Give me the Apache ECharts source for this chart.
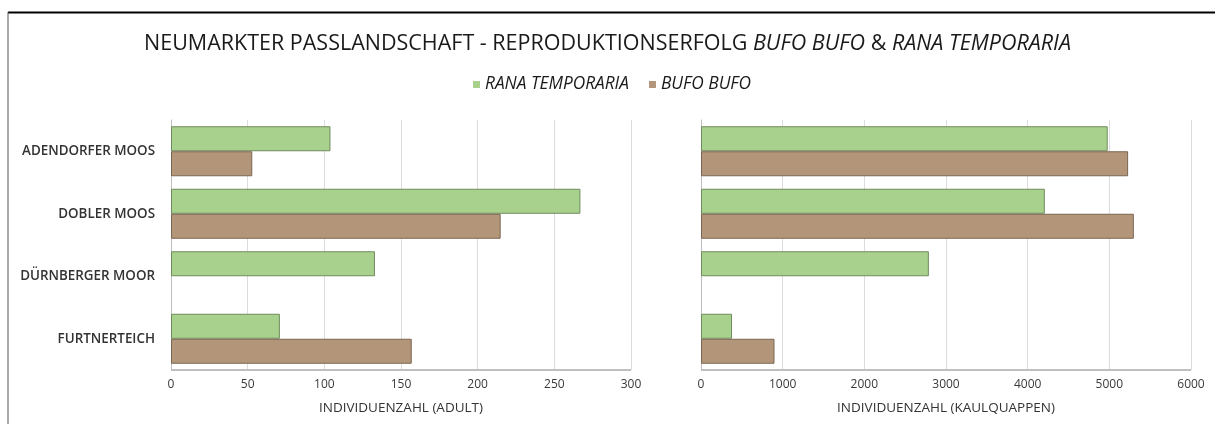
<!DOCTYPE html>
<html>
<head>
<meta charset="utf-8">
<script src="https://cdn.jsdelivr.net/npm/echarts@6/dist/echarts.min.js"></script>
<style>html,body{margin:0;padding:0;background:#fff;}#c{width:1215px;height:424px;}</style>
</head>
<body>
<div id="c"></div>
<script>
const categories = ['ADENDORFER MOOS', 'DOBLER MOOS', 'DÜRNBERGER MOOR', 'FURTNERTEICH'];
const ranaAdult = [104, 267, 133, 71];
const bufoAdult = [53, 215, 0, 157];
const ranaTadpole = [4980, 4210, 2790, 380];
const bufoTadpole = [5230, 5300, 0, 900];
const adultTicks = [0, 300, 50];
const tadpoleTicks = [0, 6000, 1000];

const FONT = 'Open Sans';
const green = '#a9d18e', greenBorder = '#6f8a5c';
const brown = '#b3967a', brownBorder = '#7a6650';

const chart = echarts.init(document.getElementById('c'));

function xAx(idx, ticks, name) {
  return {
    type: 'value', gridIndex: idx, min: ticks[0], max: ticks[1], interval: ticks[2],
    name: name, nameLocation: 'middle', nameGap: 31,
    nameTextStyle: {color: '#333', fontSize: 13.5, fontFamily: FONT},
    axisLine: {show: false},
    axisTick: {show: false},
    axisLabel: {color: '#3a3a3a', fontSize: 12, fontFamily: FONT, margin: 9, formatter: v => String(v)},
    splitLine: {show: true, lineStyle: {color: '#dcdcdc', width: 1}}
  };
}
function yAx(idx, showLabels) {
  return {
    type: 'category', gridIndex: idx, data: categories, inverse: true,
    axisLine: {show: true, lineStyle: {color: '#bfbfbf', width: 1}},
    axisTick: {show: false},
    axisLabel: {show: showLabels, color: '#333', fontSize: 13.4, fontWeight: 600, fontFamily: FONT, margin: 16}
  };
}
function barSeries(name, data, idx, color, border) {
  return {
    name: name, type: 'bar', xAxisIndex: idx, yAxisIndex: idx,
    data: data.map(v => v === 0 ? {value: 0, itemStyle: {borderWidth: 0}} : v),
    barCategoryGap: '20%', barGap: '0%',
    itemStyle: {color: color, borderColor: border, borderWidth: 1},
    silent: true
  };
}

chart.setOption({
  animation: false,
  backgroundColor: '#fff',
  title: {
    left: 'center', top: 28,
    text: '{n|NEUMARKTER PASSLANDSCHAFT - REPRODUKTIONSERFOLG }{i|BUFO BUFO}{n| & }{i|RANA TEMPORARIA}',
    textStyle: {
      fontWeight: 'normal',
      rich: {
        n: {fontSize: 21.5, fontFamily: FONT, color: '#1a1a1a', fontWeight: 'normal'},
        i: {fontSize: 21.5, fontFamily: FONT, color: '#1a1a1a', fontStyle: 'italic', fontWeight: 'normal'}
      }
    }
  },
  legend: {
    top: 71, left: 468, icon: 'rect', itemWidth: 7, itemHeight: 7, itemGap: 20,
    itemStyle: {borderWidth: 0},
    textStyle: {fontSize: 17.3, fontStyle: 'italic', fontFamily: FONT, color: '#1a1a1a'},
    data: ['RANA TEMPORARIA', 'BUFO BUFO']
  },
  grid: [
    {left: 171, right: 584, top: 120, bottom: 54},
    {left: 701, right: 24, top: 120, bottom: 54}
  ],
  xAxis: [xAx(0, adultTicks, 'INDIVIDUENZAHL (ADULT)'), xAx(1, tadpoleTicks, 'INDIVIDUENZAHL (KAULQUAPPEN)')],
  yAxis: [yAx(0, true), yAx(1, false)],
  series: [
    barSeries('RANA TEMPORARIA', ranaAdult, 0, green, greenBorder),
    barSeries('BUFO BUFO', bufoAdult, 0, brown, brownBorder),
    barSeries('RANA TEMPORARIA', ranaTadpole, 1, green, greenBorder),
    barSeries('BUFO BUFO', bufoTadpole, 1, brown, brownBorder)
  ],
  graphic: [
    {type: 'line', shape: {x1: 8, y1: 12.5, x2: 1215, y2: 12.5}, style: {stroke: '#000', lineWidth: 2}, silent: true},
    {type: 'line', shape: {x1: 8, y1: 12, x2: 8, y2: 424}, style: {stroke: '#555', lineWidth: 1}, silent: true},
    {type: 'line', shape: {x1: 171, y1: 370, x2: 631, y2: 370}, style: {stroke: '#bfbfbf', lineWidth: 2}, silent: true, z: 10},
    {type: 'line', shape: {x1: 701, y1: 370, x2: 1191, y2: 370}, style: {stroke: '#bfbfbf', lineWidth: 2}, silent: true, z: 10}
  ]
});
</script>
</body>
</html>
